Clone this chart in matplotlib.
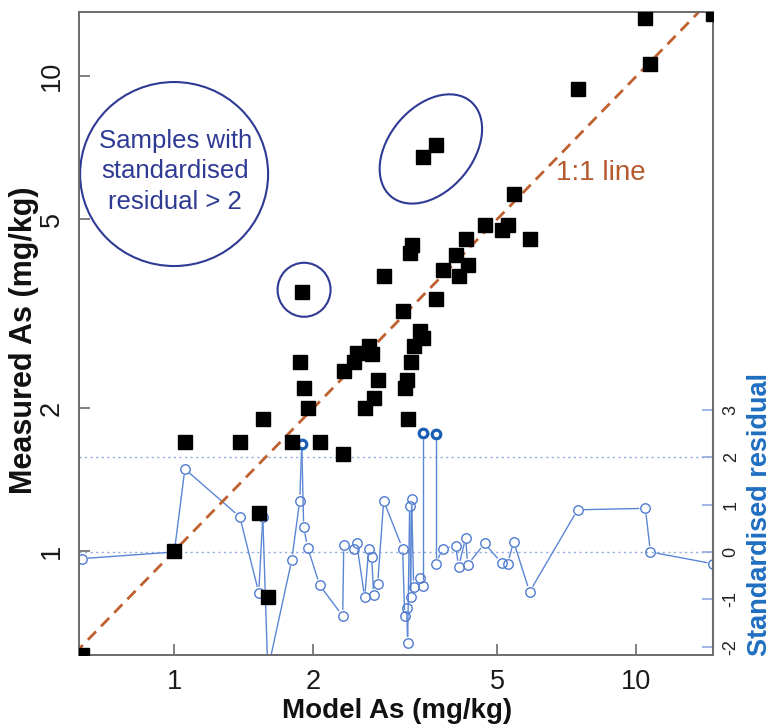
import numpy as np
import matplotlib
matplotlib.use("Agg")
import matplotlib.pyplot as plt
from matplotlib.patches import Ellipse
from matplotlib.ticker import NullLocator
from matplotlib.transforms import ScaledTranslation

plt.rcParams['font.family'] = ['Liberation Sans', 'DejaVu Sans']

# samples: model vs measured As (mg/kg) and standardised residual
model_as = [0.631, 1.00, 1.054, 1.386, 1.523, 1.554, 1.593, 1.795, 1.868, 1.887,
            1.905, 1.944, 2.063, 2.314, 2.326, 2.445, 2.481, 2.582, 2.634, 2.673,
            2.700, 2.754, 2.838, 3.119, 3.151, 3.182, 3.198, 3.230, 3.246, 3.262,
            3.295, 3.395, 3.446, 3.446, 3.677, 3.677, 3.807, 4.061, 4.123, 4.269,
            4.312, 4.692, 5.107, 5.262, 5.422, 5.871, 7.457, 10.45, 10.72, 14.67]
measured_as = [0.604, 1.00, 1.696, 1.70, 1.202, 1.896, 0.800, 1.696, 2.50, 3.51,
               2.204, 2.00, 1.696, 1.60, 2.393, 2.50, 2.611, 2.00, 2.701, 2.598,
               2.099, 2.291, 3.793, 3.201, 2.204, 2.291, 1.892, 4.240, 2.500, 4.408,
               2.701, 2.905, 2.808, 6.753, 7.155, 3.393, 3.905, 4.200, 3.793, 4.538,
               4.000, 4.858, 4.741, 4.858, 5.644, 4.538, 9.389, 13.25, 10.60, 13.51]
std_resid = [-0.14, 0.00, 1.75, 0.74, -0.86, 0.74, -2.50, -0.17, 1.08, 2.28,
             0.52, 0.09, -0.70, -1.35, 0.14, 0.07, 0.18, -0.96, 0.07, -0.10,
             -0.91, -0.68, 1.08, 0.07, -1.35, -1.18, -1.92, 0.97, -0.95, 1.11,
             -0.73, -0.55, -0.72, 2.50, 2.48, -0.25, 0.07, 0.13, -0.31, 0.30,
             -0.27, 0.18, -0.23, -0.25, 0.22, -0.84, 0.89, 0.92, 0.00, -0.25]

axis_ticks = [1, 2, 5, 10]
resid_ticks = [-2, -1, 0, 1, 2, 3]
resid_guides = [0, 2]
flag_level = 2

frame_col = '#6b6b6b'
resid_col = '#5b86d6'
flag_col = '#1a5fb4'
note_col = '#2e3a93'
line_col = '#c0602e'

fig = plt.figure(figsize=(7.72, 7.24), dpi=100)
ax = fig.add_axes([79 / 772, 69 / 724, 634 / 772, 643 / 724])
ax2 = ax.twinx()
ax.set_zorder(ax2.get_zorder() + 1)
ax.patch.set_visible(False)

ax.set_xscale('log')
ax.set_yscale('log')
ax.set_xlim(0.622, 14.64)
ax.set_ylim(0.604, 13.64)
ax2.set_ylim(-2.173, 11.39)

# axes cosmetics
for s in ax.spines.values():
    s.set_color(frame_col)
    s.set_linewidth(1.4)
for s in ax2.spines.values():
    s.set_visible(False)
ax2.spines['right'].set_visible(True)
ax2.spines['right'].set_color('#8ea9db')
ax2.spines['right'].set_linewidth(1.6)
ax2.spines['right'].set_bounds(-2, 3)

ax.xaxis.set_minor_locator(NullLocator())
ax.yaxis.set_minor_locator(NullLocator())
ax.set_xticks(axis_ticks)
ax.set_xticklabels([str(t) for t in axis_ticks])
ax.set_yticks(axis_ticks)
ax.set_yticklabels([str(t) for t in axis_ticks], rotation=90, va='center')
ax.tick_params(axis='both', direction='in', length=8, width=1.2, color=frame_col,
               labelsize=19.5, labelcolor='#1a1a1a')
ax.tick_params(axis='x', pad=10)
ax.tick_params(axis='y', pad=10)

ax2.set_yticks(resid_ticks)
ax2.set_yticklabels([str(t) for t in resid_ticks], rotation=90, va='center')
ax2.tick_params(axis='y', direction='in', length=8, width=1.2, color='#8ea9db',
                labelsize=13, labelcolor='#222222', pad=7)

# residual guide lines
for g in resid_guides:
    ax2.axhline(g, color='#8faadc', lw=1.0, ls=(0, (1.5, 2.5)), zorder=1)

# residual series, lines with gaps round the points (R type "b")
xs = np.array(model_as)
rs = np.array(std_resid)
order = np.argsort(xs, kind='stable')
pts = ax2.transData.transform(np.column_stack([xs[order], rs[order]]))
inv = ax2.transData.inverted()
gap = 6.0
for p0, p1 in zip(pts[:-1], pts[1:]):
    d = p1 - p0
    L = np.hypot(d[0], d[1])
    if L <= 2 * gap:
        continue
    u = d / L
    seg = inv.transform(np.array([p0 + u * gap, p1 - u * gap]))
    ax2.plot(seg[:, 0], seg[:, 1], color=resid_col, lw=1.0, solid_capstyle='butt', zorder=2)

low = rs <= flag_level
ax2.plot(xs[low], rs[low], 'o', ms=6.8, mfc='none', mec='#4f7bd0', mew=1.0, zorder=3)
ax2.plot(xs[~low], rs[~low], 'o', ms=6.2, mfc='none', mec=flag_col, mew=2.3, zorder=3)

# 1:1 line and samples
ax.plot([0.5, 20], [0.5, 20], color=line_col, lw=2.0, ls=(0, (4.2, 2.6)), zorder=2)
ax.plot(model_as, measured_as, 's', ms=9.4, color='black', mec='black', zorder=4)

# annotations
def ax_pos(fx, fy):
    return fig.dpi_scale_trans + ScaledTranslation(fx, fy, ax.transAxes)

ax.add_patch(Ellipse((0, 0), 1.88, 1.84, transform=ax_pos(0.150, 0.748),
                     fill=False, ec=note_col, lw=1.5, clip_on=False))
ax.add_patch(Ellipse((0, 0), 0.53, 0.54, transform=ax_pos(0.355, 0.568),
                     fill=False, ec=note_col, lw=1.5, clip_on=False))
ax.add_patch(Ellipse((0, 0), 1.24, 0.84, angle=50, transform=ax_pos(0.555, 0.787),
                     fill=False, ec=note_col, lw=1.5, clip_on=False))
ax.text(0.152, 0.752, 'Samples with\nstandardised\nresidual > 2', transform=ax.transAxes,
        ha='center', va='center', fontsize=18.5, color=note_col, linespacing=1.32)
ax.text(0.823, 0.750, '1:1 line', transform=ax.transAxes, ha='center', va='center',
        fontsize=20, color='#b65a2e')

fig.text(24 / 772, 1 - 340 / 724, 'Measured As (mg/kg)', rotation=90, ha='center',
         va='center', fontsize=22, fontweight='bold', color='#111111')
fig.text(397 / 772, 1 - 711 / 724, 'Model As (mg/kg)', ha='center', va='center',
         fontsize=20, fontweight='bold', color='#111111')
fig.text(760 / 772, 1 - 515 / 724, 'Standardised residual', rotation=90, ha='center',
         va='center', fontsize=19.5, fontweight='bold', color='#1f6ec1')

fig.savefig('out.png', dpi=100, facecolor='white')
